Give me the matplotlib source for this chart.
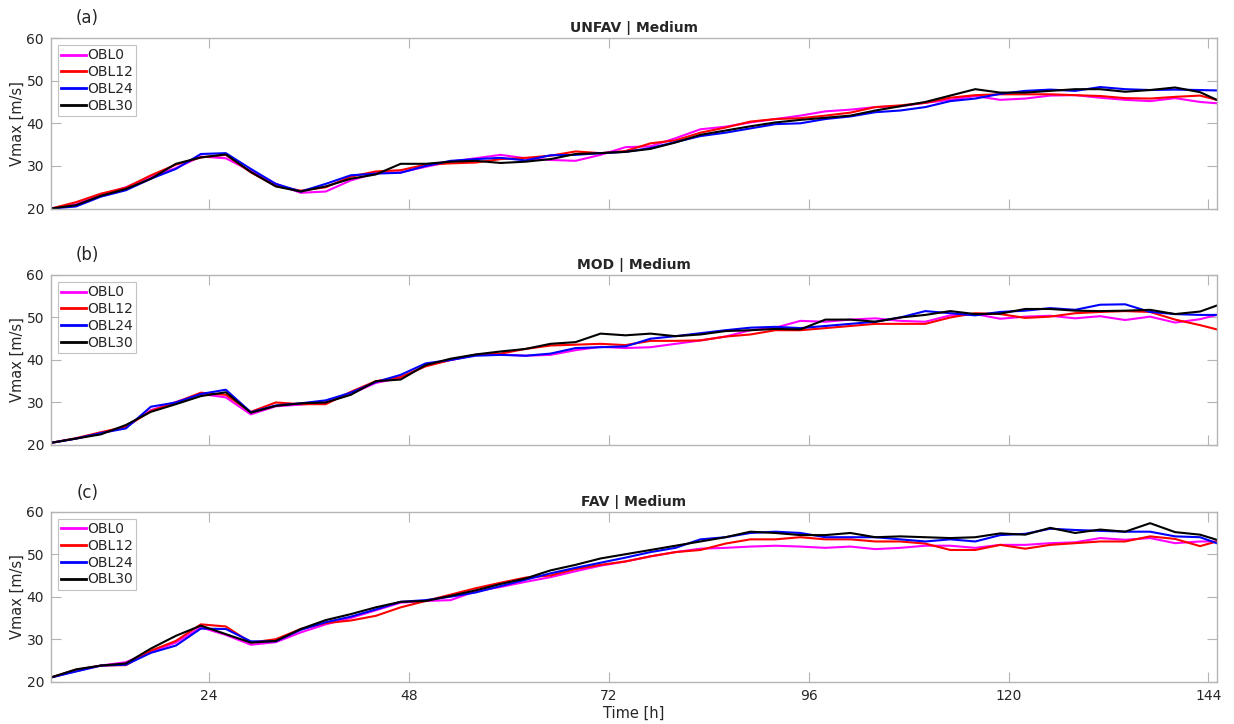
import numpy as np
import matplotlib.pyplot as plt

hours = [5, 8, 11, 14, 17, 20, 23, 26, 29, 32, 35, 38, 41, 44, 47, 50, 53, 56, 59, 62,
         65, 68, 71, 74, 77, 80, 83, 86, 89, 92, 95, 98, 101, 104, 107, 110, 113, 116,
         119, 122, 125, 128, 131, 134, 137, 140, 143, 145]

# (a) UNFAV
unfav_obl0 = [20, 21.0, 23.2, 25.0, 27.5, 29.5, 32.2, 31.8, 28.8, 25.8, 23.7, 24.0, 26.6, 28.3, 28.5, 29.8,
              31.0, 31.8, 32.6, 31.8, 31.4, 31.2, 32.6, 34.4, 34.6, 36.5, 38.6, 39.2, 40.2, 41.0, 41.8, 42.8,
              43.2, 43.8, 44.0, 44.8, 45.5, 46.4, 45.5, 45.8, 46.5, 46.6, 46.0, 45.5, 45.2, 45.9, 45.0, 44.7]
unfav_obl12 = [20, 21.5, 23.5, 24.9, 27.8, 30.3, 32.0, 32.6, 28.5, 25.3, 24.2, 25.0, 27.5, 28.7, 29.0, 30.3,
               30.6, 30.8, 31.6, 31.9, 32.4, 33.4, 33.0, 33.5, 35.3, 36.0, 37.8, 39.0, 40.4, 41.0, 41.2, 41.8,
               42.5, 43.8, 44.2, 44.8, 46.0, 46.6, 46.8, 46.8, 46.8, 46.6, 46.4, 45.9, 45.8, 46.2, 46.5, 45.5]
unfav_obl24 = [20, 20.5, 22.8, 24.3, 27.0, 29.3, 32.8, 33.0, 29.3, 25.8, 24.0, 25.8, 27.8, 28.2, 28.4, 30.0,
               31.2, 31.6, 31.9, 31.3, 32.5, 32.6, 33.0, 33.3, 34.2, 35.6, 37.0, 37.8, 38.8, 39.8, 40.0, 41.0,
               41.6, 42.6, 43.0, 43.8, 45.2, 45.8, 46.9, 47.6, 47.9, 47.6, 48.5, 48.0, 47.8, 47.9, 47.8, 47.7]
unfav_obl30 = [20, 20.8, 23.0, 24.6, 27.0, 30.5, 32.0, 32.7, 28.6, 25.2, 24.0, 25.2, 27.0, 28.0, 30.5, 30.5,
               31.0, 31.2, 30.7, 31.0, 31.6, 32.8, 33.0, 33.3, 34.0, 35.5, 37.3, 38.3, 39.3, 40.2, 40.8, 41.3,
               41.8, 43.0, 44.0, 45.0, 46.5, 48.0, 47.2, 47.2, 47.6, 48.0, 48.0, 47.4, 47.8, 48.4, 47.3, 45.5]

# (b) MOD
mod_obl0 = [20.5, 21.5, 22.8, 24.2, 28.2, 30.1, 32.0, 31.2, 27.2, 29.1, 29.5, 30.0, 32.0, 34.6, 35.8, 38.7,
            40.0, 41.2, 41.3, 41.0, 41.2, 42.3, 43.1, 42.8, 43.0, 43.8, 44.6, 45.5, 47.0, 47.6, 49.2, 49.0,
            49.5, 49.8, 49.2, 49.0, 50.5, 50.8, 49.7, 50.2, 50.4, 49.8, 50.3, 49.4, 50.2, 48.8, 49.6, 50.6]
mod_obl12 = [20.5, 21.6, 23.0, 24.3, 28.0, 30.0, 32.3, 31.8, 27.8, 30.0, 29.6, 29.6, 32.5, 35.0, 36.0, 38.5,
             40.0, 41.2, 41.5, 42.6, 43.4, 43.6, 43.8, 43.5, 44.5, 44.5, 44.6, 45.5, 46.0, 47.0, 47.0, 47.5,
             48.0, 48.5, 48.5, 48.5, 50.0, 51.0, 50.8, 49.9, 50.2, 51.0, 51.3, 51.5, 51.3, 49.5, 48.2, 47.2]
mod_obl24 = [20.5, 21.5, 22.8, 23.9, 29.0, 30.0, 32.0, 33.0, 27.7, 29.3, 29.8, 30.5, 32.3, 34.8, 36.5, 39.2,
             40.0, 41.0, 41.2, 41.0, 41.5, 42.8, 43.0, 43.2, 45.0, 45.6, 46.3, 47.0, 47.6, 47.8, 47.5, 48.0,
             48.5, 49.0, 50.0, 51.5, 51.0, 50.5, 51.3, 51.6, 52.2, 51.8, 53.0, 53.1, 51.3, 50.8, 50.6, 50.6]
mod_obl30 = [20.5, 21.5, 22.5, 24.7, 27.8, 29.6, 31.5, 32.4, 27.6, 29.2, 29.8, 30.0, 31.8, 35.0, 35.4, 38.8,
             40.3, 41.3, 42.0, 42.6, 43.8, 44.2, 46.2, 45.8, 46.2, 45.6, 46.0, 46.8, 47.0, 47.3, 47.2, 49.5,
             49.5, 49.0, 50.0, 50.6, 51.5, 50.8, 50.9, 52.0, 52.0, 51.6, 51.5, 51.6, 51.8, 50.8, 51.4, 52.8]

# (c) FAV
fav_obl0 = [21.0, 22.5, 23.8, 24.6, 27.0, 29.2, 32.8, 31.0, 28.7, 29.3, 31.6, 33.5, 35.0, 36.8, 38.6, 39.0,
            39.2, 41.3, 42.3, 43.5, 44.6, 46.0, 47.3, 48.3, 49.5, 50.5, 51.3, 51.5, 51.8, 52.0, 51.8, 51.5,
            51.8, 51.2, 51.5, 52.0, 52.0, 51.5, 52.2, 52.2, 52.6, 52.8, 53.8, 53.4, 53.8, 52.6, 53.0, 53.0]
fav_obl12 = [21.0, 22.8, 23.8, 23.9, 27.3, 29.6, 33.5, 33.0, 29.2, 30.0, 32.4, 33.8, 34.4, 35.5, 37.5, 39.0,
             40.5, 42.0, 43.3, 44.5, 45.0, 46.5, 47.5, 48.3, 49.5, 50.5, 51.0, 52.5, 53.5, 53.5, 54.0, 53.5,
             53.5, 53.0, 53.0, 52.5, 51.0, 51.0, 52.2, 51.3, 52.2, 52.6, 53.0, 53.0, 54.2, 53.6, 51.9, 53.0]
fav_obl24 = [21.0, 22.4, 23.8, 24.0, 26.8, 28.5, 32.5, 32.4, 29.5, 29.5, 32.2, 34.0, 35.3, 37.0, 38.8, 39.2,
             40.0, 41.0, 42.5, 44.0, 45.5, 46.8, 48.0, 49.2, 50.5, 51.5, 53.5, 54.0, 55.0, 55.3, 55.0, 54.0,
             54.0, 54.0, 53.5, 53.0, 53.5, 53.0, 54.5, 54.8, 56.0, 55.7, 55.5, 55.3, 55.3, 54.2, 54.0, 52.6]
fav_obl30 = [21.0, 22.9, 23.8, 24.3, 27.8, 30.8, 33.2, 31.2, 29.2, 29.6, 32.4, 34.5, 35.9, 37.5, 38.8, 39.0,
             40.2, 41.5, 43.0, 44.3, 46.2, 47.5, 49.0, 50.0, 51.0, 52.0, 53.0, 54.0, 55.3, 55.0, 54.5, 54.5,
             55.0, 54.0, 54.2, 54.0, 53.8, 54.0, 54.9, 54.6, 56.2, 55.0, 55.8, 55.3, 57.3, 55.2, 54.6, 53.4]

labels = ['OBL0', 'OBL12', 'OBL24', 'OBL30']
colors = ['#ff00ff', '#ff0000', '#0000ff', '#000000']
titles = ['UNFAV | Medium', 'MOD | Medium', 'FAV | Medium']
panel_tags = ['(a)', '(b)', '(c)']
panels = [
    [unfav_obl0, unfav_obl12, unfav_obl24, unfav_obl30],
    [mod_obl0, mod_obl12, mod_obl24, mod_obl30],
    [fav_obl0, fav_obl12, fav_obl24, fav_obl30],
]

plt.rcParams['font.family'] = 'DejaVu Sans'
fig = plt.figure(figsize=(12.34, 7.24), dpi=100)

# axes boxes in figure fraction (left, bottom, width, height)
boxes = [
    (0.0413, 0.7119, 0.9447, 0.2356),
    (0.0413, 0.3854, 0.9447, 0.2348),
    (0.0413, 0.0584, 0.9447, 0.2348),
]
tag_y = [0.975, 0.648, 0.319]
grey = '#b4b4b4'
txt = '#262626'

for i, (box, series) in enumerate(zip(boxes, panels)):
    ax = fig.add_axes(box)
    for vals, lab, col in zip(series, labels, colors):
        ax.plot(hours, vals, color=col, lw=1.5, label=lab)
    ax.set_xlim(5, 145)
    ax.set_ylim(20, 60)
    ax.set_xticks([24, 48, 72, 96, 120, 144])
    ax.set_yticks([20, 30, 40, 50, 60])
    for s in ax.spines.values():
        s.set_color(grey)
        s.set_linewidth(1.0)
    ax.tick_params(direction='in', length=7, width=0.8, color=grey,
                   top=True, right=True, labelsize=10, labelcolor=txt, pad=5)
    if i < 2:
        ax.tick_params(labelbottom=False)
    ax.set_ylabel('Vmax [m/s]', fontsize=10.5, color=txt, labelpad=1)
    ax.set_title(titles[i], fontsize=10, fontweight='bold', color=txt, pad=4)
    leg = ax.legend(loc='upper left', fontsize=10, frameon=True, fancybox=False,
                    handlelength=1.75, handletextpad=0.1, borderpad=0.25,
                    labelspacing=0.2, borderaxespad=0.5)
    leg.get_frame().set_edgecolor(grey)
    leg.get_frame().set_linewidth(0.8)
    for t in leg.get_texts():
        t.set_color(txt)
    for h in leg.get_lines():
        h.set_linewidth(2.0)
    fig.text(0.071, tag_y[i], panel_tags[i], fontsize=12, color=txt,
             ha='center', va='center')
    if i == 2:
        ax.set_xlabel('Time [h]', fontsize=10.5, color=txt, labelpad=2)

fig.savefig('out.png', dpi=100)
